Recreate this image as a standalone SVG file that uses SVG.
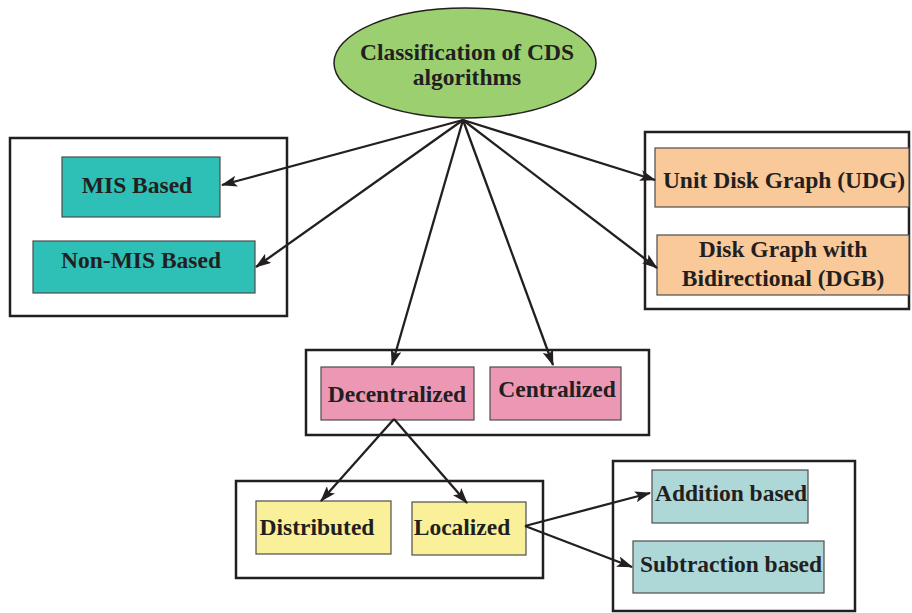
<svg xmlns="http://www.w3.org/2000/svg" width="912" height="613" viewBox="0 0 912 613">
  <style>
    .frame { fill: #ffffff; stroke: #231f20; stroke-width: 2.5; }
    .box { stroke: #4d4d4d; stroke-width: 1.2; }
    .lbl { font-family: "Liberation Serif", "Times New Roman", serif; font-weight: bold; font-size: 23.5px; fill: #231f20; text-anchor: middle; }
    .edge { stroke: #231f20; stroke-width: 2.3; fill: none; marker-end: url(#arrow); }
  </style>
  <defs>
    <marker id="arrow" viewBox="0 0 16 11" refX="15" refY="5.5" markerWidth="16" markerHeight="11" markerUnits="userSpaceOnUse" orient="auto">
      <path d="M0,0 L16,5.5 L0,11 L3.5,5.5 Z" fill="#231f20"/>
    </marker>
  </defs>

  <!-- group frames -->
  <g id="frames">
    <rect class="frame" x="10" y="138" width="277" height="178"/>
    <rect class="frame" x="645" y="132" width="264" height="177"/>
    <rect class="frame" x="306" y="350" width="343" height="85"/>
    <rect class="frame" x="236" y="481" width="307" height="97"/>
    <rect class="frame" x="613" y="461" width="242" height="150"/>
  </g>

  <!-- root -->
  <g id="root">
    <ellipse cx="465" cy="63" rx="131" ry="55" fill="#9bcf6f" stroke="#231f20" stroke-width="1.5"/>
    <text class="lbl" x="467" y="60">Classification of CDS</text>
    <text class="lbl" x="467" y="85">algorithms</text>
  </g>

  <g id="mis">
    <rect class="box" x="62" y="157" width="158" height="60" fill="#2ebfb7"/>
    <text class="lbl" x="137" y="193">MIS Based</text>
  </g>
  <g id="nonmis">
    <rect class="box" x="33" y="241" width="222" height="52" fill="#2ebfb7"/>
    <text class="lbl" x="141" y="268">Non-MIS Based</text>
  </g>

  <g id="udg">
    <rect class="box" x="655" y="148" width="254" height="59" fill="#f9c99a"/>
    <text class="lbl" x="784" y="188">Unit Disk Graph (UDG)</text>
  </g>
  <g id="dgb">
    <rect class="box" x="657" y="235" width="252" height="60" fill="#f9c99a"/>
    <text class="lbl" x="783" y="257">Disk Graph with</text>
    <text class="lbl" x="783" y="286">Bidirectional (DGB)</text>
  </g>

  <g id="decentralized">
    <rect class="box" x="321" y="367" width="153" height="53" fill="#ec98b5"/>
    <text class="lbl" x="397" y="402">Decentralized</text>
  </g>
  <g id="centralized">
    <rect class="box" x="490" y="367" width="131" height="53" fill="#ec98b5"/>
    <text class="lbl" x="557" y="397">Centralized</text>
  </g>

  <g id="distributed">
    <rect class="box" x="256" y="501" width="135" height="53" fill="#faf09a"/>
    <text class="lbl" x="317" y="535">Distributed</text>
  </g>
  <g id="localized">
    <rect class="box" x="412" y="502" width="114" height="53" fill="#faf09a"/>
    <text class="lbl" x="462" y="535">Localized</text>
  </g>

  <g id="addition">
    <rect class="box" x="652" y="470" width="156" height="53" fill="#aed8d8"/>
    <text class="lbl" x="731" y="501">Addition based</text>
  </g>
  <g id="subtraction">
    <rect class="box" x="633" y="541" width="191" height="52" fill="#aed8d8"/>
    <text class="lbl" x="731" y="572">Subtraction based</text>
  </g>

  <!-- connectors -->
  <g id="connectors">
    <line class="edge" x1="463" y1="120" x2="222" y2="185"/>
    <line class="edge" x1="463" y1="120" x2="256" y2="267"/>
    <line class="edge" x1="463" y1="120" x2="392" y2="365"/>
    <line class="edge" x1="463" y1="120" x2="553" y2="365"/>
    <line class="edge" x1="463" y1="120" x2="655" y2="180"/>
    <line class="edge" x1="463" y1="120" x2="657" y2="268"/>
    <line class="edge" x1="394" y1="419" x2="321" y2="501"/>
    <line class="edge" x1="394" y1="419" x2="467" y2="503"/>
    <line class="edge" x1="525" y1="526" x2="650" y2="493"/>
    <line class="edge" x1="525" y1="526" x2="632" y2="567"/>
  </g>
</svg>
